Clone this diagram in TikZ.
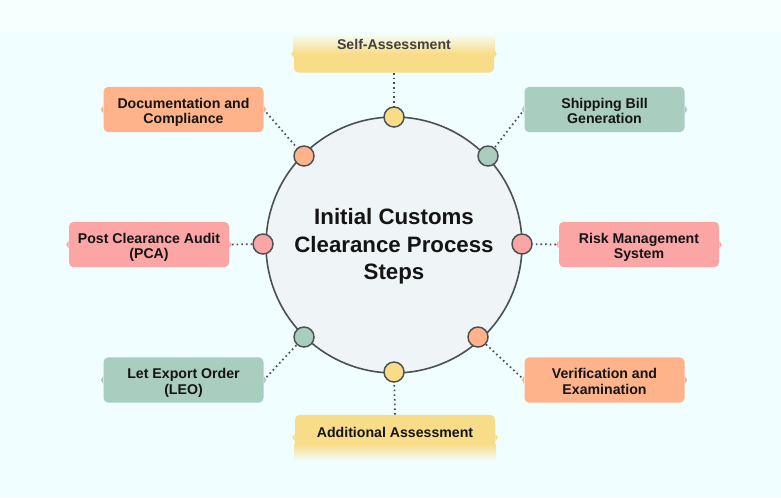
\documentclass[tikz,border=0pt]{standalone}
\usepackage{fontspec}
\setmainfont{Liberation Sans}
\definecolor{pagebg}{HTML}{F0FEFF}
\definecolor{topbg}{HTML}{F4FFFE}
\definecolor{hubfill}{HTML}{EFF4F6}
\definecolor{edgegray}{HTML}{4B5052}
\definecolor{yellowbox}{HTML}{F9DC87}
\definecolor{orangebox}{HTML}{FFB38A}
\definecolor{tealbox}{HTML}{A9CDBE}
\definecolor{pinkbox}{HTML}{FBA5A5}
\tikzset{
  stepbox/.style={rounded corners=3.5,minimum width=120,minimum height=34,inner sep=0pt,align=center,
    text height=21.2pt,text depth=0pt,font=\fontsize{10.6}{11.6}\selectfont\bfseries,text=black!92},
  wideyellow/.style={rounded corners=3.5,fill=yellowbox,minimum width=150,minimum height=34,inner sep=0pt},
  dot/.style={circle,draw=edgegray,line width=1.1pt,minimum size=15,inner sep=0pt},
  link/.style={draw=edgegray,line width=1.3pt,dash pattern=on 1.2pt off 2.3pt},
}
\begin{document}
\begin{tikzpicture}[x=0.75pt,y=-0.75pt]
\useasboundingbox (0,0) rectangle (781,497);
\fill[pagebg] (0,0) rectangle (781,497);
\fill[topbg] (0,0) rectangle (781,32);

\node[circle,draw=edgegray,fill=hubfill,line width=1.2pt,minimum size=192,inner sep=0pt,align=center,
  text depth=1.5pt,font=\fontsize{16.7}{20.4}\selectfont\bfseries,text=black!92] (hub) at (394,245)
  {Initial Customs\\Clearance Process\\Steps};

\node[wideyellow,minimum height=28] (self) at (394,54) {};
\node[stepbox,fill=orangebox] (doc) at (183.5,109.5) {Documentation and\\Compliance};
\node[stepbox,fill=tealbox] (ship) at (604.5,109.5) {Shipping Bill\\Generation};
\node[stepbox,fill=pinkbox] (pca) at (149,244.5) {Post Clearance Audit\\(PCA)};
\node[stepbox,fill=pinkbox] (risk) at (639,244.5) {Risk Management\\System};
\node[stepbox,fill=tealbox] (leo) at (183.5,380) {Let Export Order\\(LEO)};
\node[stepbox,fill=orangebox] (verify) at (604.5,380) {Verification and\\Examination};
\node[wideyellow] (addl) at (395,437.5) {};

% faded ends of the two yellow boxes
\shade[top color=topbg,bottom color=yellowbox] (293,33) rectangle (495,54);
\shade[top color=yellowbox,bottom color=pagebg] (294,444) rectangle (496,461);
\node[font=\fontsize{10.6}{11.6}\selectfont\bfseries,text=black!75] (selftext) at (394,44.5) {Self-Assessment};
\node[font=\fontsize{10.6}{11.6}\selectfont\bfseries,text=black!92] (addltext) at (395,432) {Additional Assessment};

% small points on the box sides
\foreach \name/\col in {self/yellowbox,addl/yellowbox,doc/orangebox,verify/orangebox,ship/tealbox,leo/tealbox,pca/pinkbox,risk/pinkbox}{
  \fill[\col] (\name.east) ++(0,-4) -- ++(2.5,4) -- ++(-2.5,4) -- cycle;
  \fill[\col] (\name.west) ++(0,-4) -- ++(-2.5,4) -- ++(2.5,4) -- cycle;
}

\node[dot,fill=yellowbox] (dself) at (394,117) {};
\node[dot,fill=orangebox] (ddoc) at (304,156) {};
\node[dot,fill=tealbox] (dship) at (488,156) {};
\node[dot,fill=pinkbox] (dpca) at (263,244) {};
\node[dot,fill=pinkbox] (drisk) at (522,244) {};
\node[dot,fill=tealbox] (dleo) at (304,337) {};
\node[dot,fill=orangebox] (dverify) at (478,337) {};
\node[dot,fill=yellowbox] (daddl) at (394,372) {};

\draw[link] (self.south) -- (dself);
\draw[link,shorten <=3] (doc.east) -- (ddoc);
\draw[link,shorten <=3] (ship.west) -- (dship);
\draw[link,shorten <=2] (pca.east) -- (dpca);
\draw[link,shorten <=2] (risk.west) -- (drisk);
\draw[link,shorten <=3] (leo.east) -- (dleo);
\draw[link,shorten <=3] (verify.west) -- (dverify);
\draw[link] (addl.north) -- (daddl);
\end{tikzpicture}
\end{document}
